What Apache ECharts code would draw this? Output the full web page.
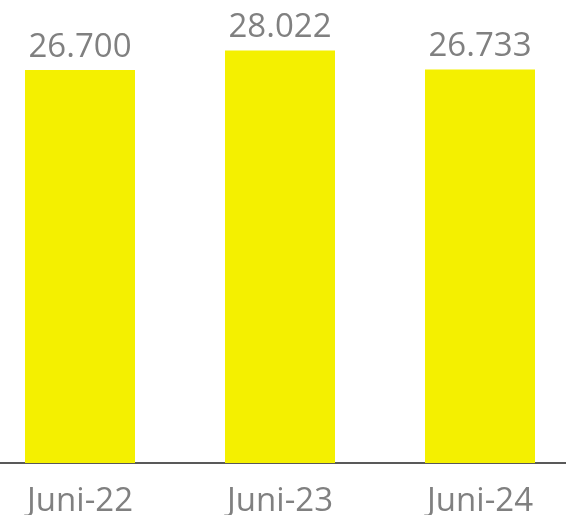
<!DOCTYPE html>
<html>
<head>
<meta charset="utf-8">
<script src="https://cdn.jsdelivr.net/npm/echarts@6/dist/echarts.min.js"></script>
<style>
html,body{margin:0;padding:0;background:#fff;}
#c{width:566px;height:515px;}
</style>
</head>
<body>
<div id="c"></div>
<script>
const categories = ['Juni-22', 'Juni-23', 'Juni-24'];
const values = [26.700, 28.022, 26.733];
const valueLabels = ['26.700', '28.022', '26.733'];

const chart = echarts.init(document.getElementById('c'), null, {renderer: 'canvas'});
chart.setOption({
  animation: false,
  grid: {left: -20, right: -14, top: 21.4, bottom: 52, containLabel: false, outerBoundsMode: 'none'},
  xAxis: {
    type: 'category',
    data: categories,
    axisLine: {show: true, lineStyle: {color: '#595959', width: 2}},
    axisTick: {show: false},
    axisLabel: {color: '#808080', fontFamily: 'Open Sans', fontSize: 33, margin: 22}
  },
  yAxis: {
    type: 'value', min: 0, max: 30,
    show: false,
    splitLine: {show: false}
  },
  series: [{
    type: 'bar',
    data: values,
    barWidth: '55%',
    itemStyle: {color: '#F4F000'},
    label: {
      show: true, position: 'top', distance: 6,
      color: '#808080', fontFamily: 'Open Sans', fontSize: 33,
      formatter: p => valueLabels[p.dataIndex]
    }
  }]
});
</script>
</body>
</html>
